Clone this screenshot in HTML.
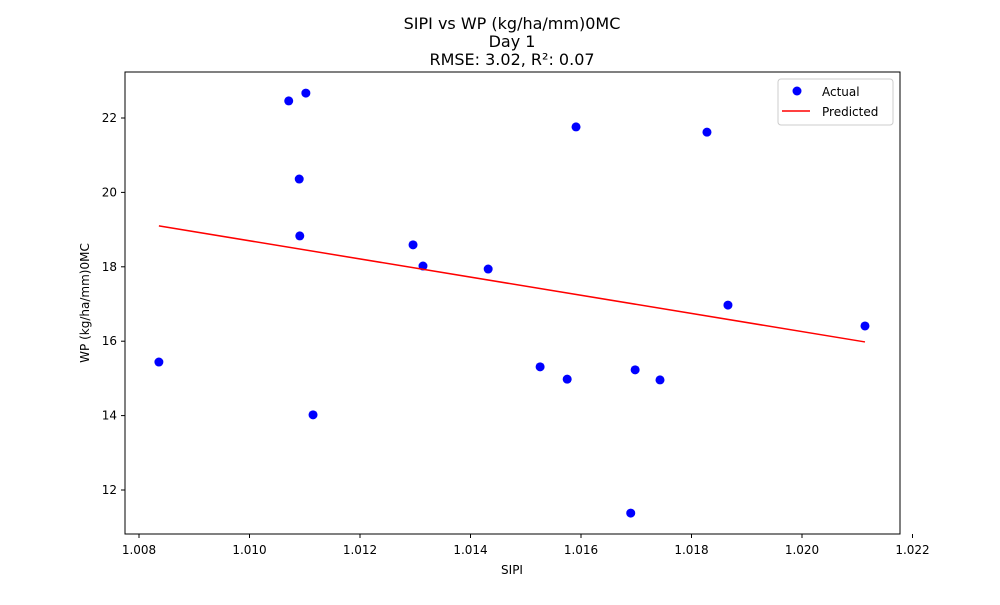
<!DOCTYPE html>
<html><head><meta charset="utf-8"><style>
body{margin:0;background:#fff;}
svg{font-family:"DejaVu Sans","Liberation Sans",sans-serif;}
</style></head><body>
<svg id="chart" width="1000" height="600" viewBox="0 0 1000 600">
<rect width="1000" height="600" fill="#fff"/>
<g font-size="16" text-anchor="middle" fill="#000">
<text x="512" y="29">SIPI vs WP (kg/ha/mm)0MC</text>
<text x="512" y="47">Day 1</text>
<text x="512" y="65">RMSE: 3.02, R²: 0.07</text>
</g>
<g id="marks"></g>
<rect x="125" y="72" width="775" height="462" fill="none" stroke="#000" stroke-width="1"/>
<g id="xticks" font-size="12" text-anchor="middle"></g>
<g id="yticks" font-size="12" text-anchor="end"></g>
<text x="512" y="574" font-size="12" text-anchor="middle">SIPI</text>
<text transform="translate(89,303) rotate(-90)" font-size="12" text-anchor="middle">WP (kg/ha/mm)0MC</text>
<g>
<rect x="778" y="79" width="115" height="46" rx="3" fill="#fff" stroke="#ccc"/>
<circle cx="797" cy="91" r="4.5" fill="#0000ff"/>
<text x="822" y="96" font-size="12">Actual</text>
<line x1="782" y1="111" x2="810" y2="111" stroke="#ff0000" stroke-width="1.5"/>
<text x="822" y="116" font-size="12">Predicted</text>
</g>
</svg>
<script>
const xValues=[1.00836,1.01071,1.01102,1.01090,1.01091,1.01115,1.01296,1.01314,1.01432,1.01526,1.01575,1.01591,1.01690,1.01698,1.01743,1.01828,1.01866,1.02114];
const yValues=[15.44,22.46,22.67,20.36,18.83,14.02,18.59,18.02,17.94,15.31,14.98,21.76,11.38,15.23,14.96,21.62,16.97,16.41];
const lineX=[1.00836,1.02114];
const lineY=[19.10,15.98];
const xTicks=[1.008,1.010,1.012,1.014,1.016,1.018,1.020,1.022];
const yTicks=[12,14,16,18,20,22];
const NS="http://www.w3.org/2000/svg";
function xs(v){return 139+(v-1.008)/0.002*110.5;}
function ys(v){return 490-(v-12)*37.2;}
function mk(t,a,p){const e=document.createElementNS(NS,t);for(const k in a)e.setAttribute(k,a[k]);p.appendChild(e);return e;}
const marks=document.getElementById('marks');
xValues.forEach((x,i)=>{
 const c=mk('circle',{cx:xs(x),cy:ys(yValues[i]),r:4.5,fill:'#0000ff'},marks);
 
 
});
const ln=mk('line',{x1:xs(lineX[0]),y1:ys(lineY[0]),x2:xs(lineX[1]),y2:ys(lineY[1]),stroke:'#ff0000','stroke-width':1.5},marks);


const xg=document.getElementById('xticks');
xTicks.forEach(v=>{
 const x=xs(v);
 const t=mk('line',{x1:x,y1:534,x2:x,y2:538,stroke:'#000'},xg);
 
 
 const l=mk('text',{x:x,y:554},xg);l.textContent=v.toFixed(3);
 
 
});
const yg=document.getElementById('yticks');
yTicks.forEach(v=>{
 const y=ys(v);
 const t=mk('line',{x1:121,y1:y,x2:125,y2:y,stroke:'#000'},yg);
 
 
 const l=mk('text',{x:117,y:y+4},yg);l.textContent=v;
 
 
});
</script>
</body></html>
